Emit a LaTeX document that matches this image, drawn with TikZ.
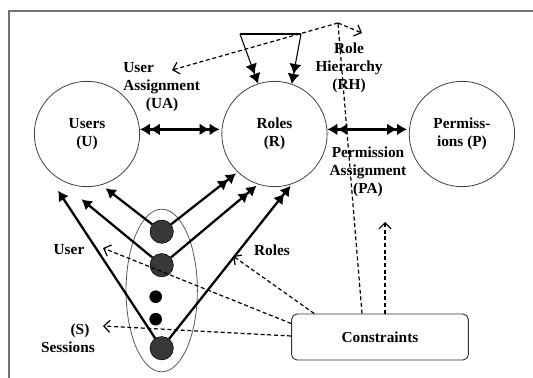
\documentclass[tikz,border=0pt]{standalone}
\usepackage{amsmath,amssymb}
\usepackage{fontspec}
\setmainfont{Liberation Serif}
\usetikzlibrary{arrows.meta,calc,positioning,shapes.geometric}

\begin{document}
\begin{tikzpicture}[x=0.75pt,y=-0.75pt,
    font=\fontsize{11.5}{13.5}\selectfont\bfseries,
    >={Latex[length=7.5pt,width=9pt]},
    set/.style={circle,draw=black!75,line width=0.6pt,minimum size=79pt,inner sep=0pt,align=center},
    sdot/.style={circle,draw=black,fill=black!78,minimum size=17.5pt,inner sep=0pt},
    bdot/.style={circle,fill=black,minimum size=9.5pt,inner sep=0pt},
    lab/.style={align=center,inner sep=0pt},
    heavy/.style={line width=1.7pt,shorten >=1.5pt},
    cline/.style={line width=0.9pt,dash pattern=on 3pt off 2pt},
    cdash/.style={cline,-{Straight Barb[length=4.5pt,width=9pt]}}]
  \useasboundingbox (0,0) rectangle (533,378);
  \draw[black!55,line width=0.8pt] (9,378) -- (9,11) -- (533,11);

  \node[set] (users) at (87,134) {Users\\(U)};
  \node[set,right=61pt of users] (roles) {Roles\\(R)};
  \node[set,right=61pt of roles] (perms) {Permiss-\\ions (P)};

  \node[ellipse,draw=black!65,line width=0.6pt,minimum width=53.5pt,minimum height=122pt] (sess) at (161.7,290.5) {};
  \node[sdot] (s1) at (161.7,231.7) {};
  \node[sdot] at ($(s1)+(0,33.5)$) (s2) {};
  \node[bdot] at ($(s2)+(-6,31.5)$) (s3) {};
  \node[bdot] at ($(s3)+(0,22.5)$) (s4) {};
  \node[sdot] at ($(s2)+(0,83)$) (s5) {};

  \node[draw=black!80,line width=0.7pt,rounded corners=4pt,minimum width=132.5pt,minimum height=34.5pt] (cons) at (380,337) {Constraints};

  \node[lab,align=left,anchor=west] (ualbl) at (123,87) {User\\Assignment\\\hspace*{17pt}(UA)};
  \node[lab] (rhlbl) at (349,68) {Role\\Hierarchy\\(RH)};
  \node[lab] (palbl) at (368,172) {Permission\\Assignment\\(PA)};
  \node[lab] (ulbl) at (69,250) {User};
  \node[lab] (rlbl) at (272,250) {Roles};
  \node[lab] (slbl) at (68,338) {\hspace*{18pt}(S)\\Sessions};

  \coordinate (u1) at ($(users)+(17,53)$);
  \coordinate (u2) at ($(users)+(-7,64)$);
  \coordinate (u3) at ($(users)+(-30,55)$);
  \coordinate (h1) at (240,34);
  \coordinate (h2) at (301,34);
  \coordinate (apex) at (338,23);
  \coordinate (rhT) at (362,33);
  \coordinate (uaT) at (172,70);
  \coordinate (paT) at (385,222);
  \coordinate (rT) at (233,256);
  \coordinate (uT) at (103,248);
  \coordinate (sT) at (103,326);

  \draw[heavy,<<->>] (users.5) -- (roles.175);
  \draw[heavy,<<->>] (roles.5) -- (perms.175);
  \draw[line width=1.7pt] (h1) -- (h2);
  \draw[line width=0.8pt,->>] (h1) -- (roles.108);
  \draw[line width=0.8pt,->>] (h2) -- (roles.71);

  \draw[heavy,->] (s1) -- (u1);
  \draw[heavy,->] (s2) -- (u2);
  \draw[heavy,->] (s5) -- (u3);
  \draw[heavy,->>] (s1) -- (roles.-134);
  \draw[heavy,->>] (s2) -- (roles.-108);
  \draw[heavy,->>] (s5) -- (roles.-71);

  \draw[cline] ($(cons.north)+(-18,0)$) -- (apex);
  \draw[cdash] (apex) -- (rhT);
  \draw[cdash] (apex) -- (uaT);
  \draw[cdash] ($(cons.north)+(5,0)$) -- (paT);
  \draw[cdash] ($(cons.north west)+(23,0)$) -- (rT);
  \draw[cdash] ($(cons.north west)+(0,10)$) -- (uT);
  \draw[cdash] ($(cons.west)+(0,-1)$) -- (sT);
\end{tikzpicture}
\end{document}
